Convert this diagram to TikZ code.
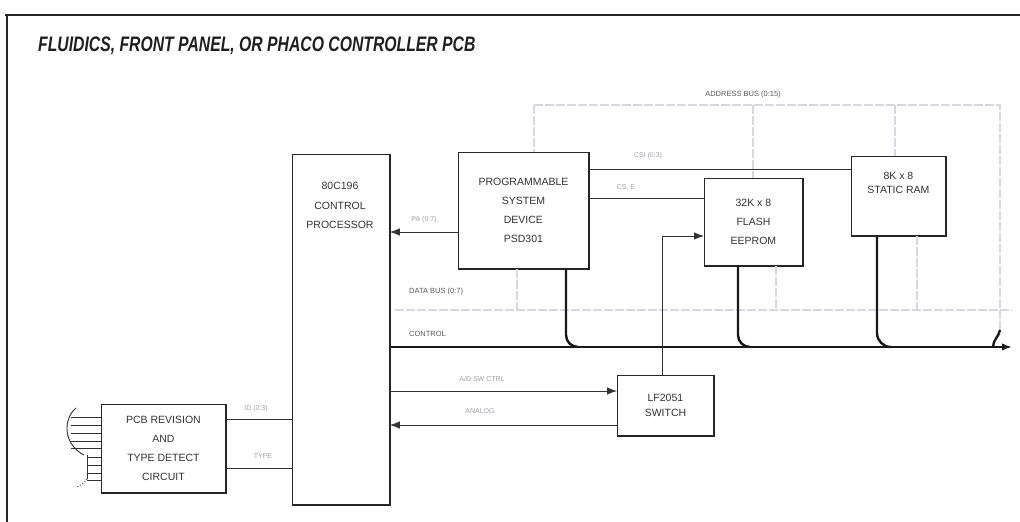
\documentclass[tikz,border=0pt]{standalone}
\usepackage{fontspec}
\setmainfont{Liberation Sans}
\usetikzlibrary{arrows.meta}
\definecolor{faintbus}{rgb}{0.84,0.84,0.90}
\definecolor{faintlbl}{rgb}{0.62,0.62,0.66}
\tikzset{
  x=1pt,y=-1pt,
  blockbox/.style={draw=black!85,line width=0.9pt,fill=white,inner sep=0pt,align=center,
     font=\fontsize{10.5}{19}\selectfont,text=black!80},
  shadowedge/.style={draw=black!85,line width=2.6pt},
  sigline/.style={draw=black!80,line width=0.9pt},
  ctrlline/.style={draw=black!90,line width=2.4pt},
  busline/.style={draw=faintbus,line width=2pt,dash pattern=on 9pt off 2pt},
  faintlabel/.style={text=faintlbl,font=\fontsize{7}{8}\selectfont,inner sep=1pt},
  buslabel/.style={text=black!65,font=\fontsize{7.5}{8}\selectfont,inner sep=1pt,anchor=west},
  arrowtip/.style={-{Latex[length=10pt,width=7.5pt]}}
}
\begin{document}
\begin{tikzpicture}
\useasboundingbox (0,0) rectangle (1020,522);
% frame
\draw[black!85,line width=2.2pt] (5,15) -- (1020,15);
\draw[black!85,line width=2.4pt] (7,14) -- (7,522);
% title
\node[anchor=west,inner sep=0pt,text=black!88] (title) at (38,46)
  {\scalebox{0.75}[1]{\fontsize{21}{24}\selectfont\bfseries\itshape FLUIDICS, FRONT PANEL, OR PHACO CONTROLLER PCB}};

% blocks
\node[blockbox,minimum width=97pt,minimum height=350pt,anchor=north west] (cpu) at (292,154) {};
\node[align=center,text=black!80,font=\fontsize{10.5}{19.5}\selectfont,anchor=north] (cputext) at (340,179)
  {80C196\\CONTROL\\PROCESSOR};
\node[blockbox,minimum width=130pt,minimum height=116pt,anchor=north west] (psd) at (458,152)
  {PROGRAMMABLE\\SYSTEM\\DEVICE\\PSD301};
\node[blockbox,minimum width=98pt,minimum height=87pt,anchor=north west] (flash) at (704,178)
  {32K x 8\\FLASH\\EEPROM};
\node[blockbox,minimum width=94pt,minimum height=79pt,anchor=north west,
      font=\fontsize{10.5}{14}\selectfont] (ram) at (851,156)
  {8K x 8\\STATIC RAM\\[12pt]};
\node[blockbox,minimum width=124pt,minimum height=88pt,anchor=north west] (pcb) at (101,404)
  {PCB REVISION\\AND\\TYPE DETECT\\CIRCUIT};
\node[blockbox,minimum width=96pt,minimum height=60pt,anchor=north west,
      font=\fontsize{10.5}{15}\selectfont] (sw) at (617,375)
  {LF2051\\SWITCH};

% shadow edges
\foreach \n in {cpu,psd,flash,ram,pcb,sw}{
  \draw[shadowedge] (\n.north east) -- (\n.south east) -- (\n.south west);
}

% address bus
\coordinate (abL) at (534,105);
\coordinate (abR) at (1000,105);
\coordinate (dbR) at (1000,332);
\draw[busline] (abL) -- (abR) -- (dbR);
\draw[busline] (abL) -- (psd.north -| abL);
\draw[busline] (753,105) -- (flash.north -| 753,0);
\draw[busline] (895,105) -- (ram.north -| 895,0);
\node[buslabel,anchor=center] (ablbl) at (743,95) {ADDRESS BUS (0:15)};

% data bus
\coordinate (dbL) at (395,310);
\coordinate (dbE) at (1012,310);
\draw[busline] (dbL) -- (dbE);
\draw[busline] (psd.south -| 517,0) -- (517,310);
\draw[busline] (flash.south -| 776,0) -- (776,310);
\draw[busline] (ram.south -| 917,0) -- (917,310);
\node[buslabel] (dblbl) at (408,292) {DATA BUS (0:7)};

% control bus
\coordinate (ctrlE) at (1012,347);
\draw[ctrlline,arrowtip] (cpu.east |- 0,347) -- (ctrlE);
\node[buslabel] (ctrllbl) at (408,334) {CONTROL};
\draw[ctrlline] (psd.south -| 566,0) -- (566,335) to[out=-90,in=180] (578,347);
\draw[ctrlline] (flash.south -| 738,0) -- (738,335) to[out=-90,in=180] (750,347);
\draw[ctrlline] (ram.south -| 877,0) -- (877,333) to[out=-90,in=180] (891,347);
\draw[ctrlline] (1000,330) to[out=-100,in=90] (993,347);

% PSD to processor
\draw[sigline,arrowtip] (psd.west |- 0,232) -- (cpu.east |- 0,232);
\node[faintlabel] (l1) at (424,220) {PA (0:7)};
% PSD to RAM and flash
\draw[sigline] (psd.east |- 0,169) -- (ram.west |- 0,169);
\node[faintlabel] (l2) at (648,156) {CSI (0:3)};
\draw[sigline] (psd.east |- 0,198) -- (flash.west |- 0,198);
\node[faintlabel] (l3) at (626,188) {CS, E};

% switch to flash
\coordinate (swup) at (662,236);
\draw[sigline,arrowtip] (sw.north -| swup) -- (swup) -- (flash.west |- swup);

% processor <-> switch
\draw[sigline,arrowtip] (cpu.east |- 0,391) -- (sw.west |- 0,391);
\node[faintlabel] (l4) at (482,379) {A/D SW CTRL};
\draw[sigline,arrowtip] (sw.west |- 0,425) -- (cpu.east |- 0,425);
\node[faintlabel] (l5) at (480,411) {ANALOG};

% PCB to processor
\draw[sigline] (pcb.east |- 0,419) -- (cpu.west |- 0,419);
\node[faintlabel] (l6) at (256,409) {ID (0:3)};
\draw[sigline] (pcb.east |- 0,468) -- (cpu.west |- 0,468);
\node[faintlabel] (l7) at (263,456) {TYPE};

% connector stubs left of PCB box
\foreach \yy in {417,425,433,441,448}{
  \draw[sigline] (71,\yy) -- (pcb.west |- 0,\yy);
}
\draw[sigline] (76,408) .. controls (62,420) and (64,445) .. (84,455);
\draw[sigline] (87,455) -- (87,479);
\foreach \yy in {457,465,473,480}{
  \draw[sigline] (87,\yy) -- (pcb.west |- 0,\yy);
}
\draw[sigline,dotted] (87,479) .. controls (84,483) .. (77,487);
\end{tikzpicture}
\end{document}
